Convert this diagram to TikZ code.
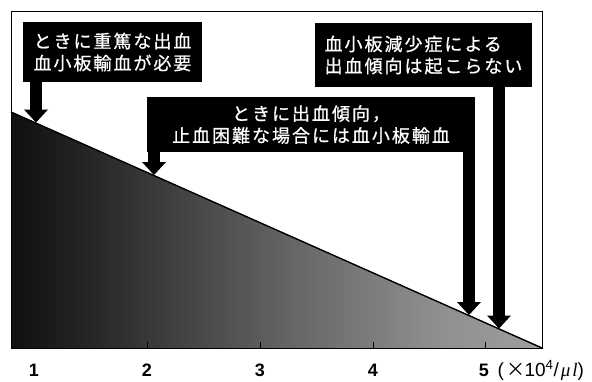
\documentclass[tikz,border=0pt]{standalone}
\usepackage{fontspec}
\setmainfont{Liberation Sans}
\newfontfamily\jp[LetterSpace=11,FakeBold=0.8]{Noto Sans CJK JP}
\newfontfamily\jpplain{Noto Sans CJK JP}
\newfontfamily\serifit{Liberation Serif}
\usetikzlibrary{arrows.meta}
\pgfdeclarehorizontalshading{tri}{100bp}{color(0bp)=(black); color(20bp)=(black); color(35bp)=(black!82); color(50bp)=(black!62); color(65bp)=(black!44); color(85bp)=(black!32); color(94bp)=(black!18); color(100bp)=(black!6)}
\begin{document}
\begin{tikzpicture}[x=1pt,y=-1pt,
  jbox/.style={fill=black,text=white,font=\jp\fontsize{18}{22}\selectfont,align=center,inner sep=0pt},
  fat/.style={line width=12pt,-{Triangle[length=13pt,width=24pt,line width=0pt]}},
  tickmark/.style={line width=0.8pt},
  num/.style={font=\bfseries\fontsize{18}{18}\selectfont}]
\useasboundingbox (0,0) rectangle (592,381);
\coordinate (A) at (11,112);
\coordinate (B) at (542,348);
\coordinate (C) at (11,348);
\shade[shading=tri] (A) -- (B) -- (C) -- cycle;
\draw[line width=0.9pt] (11,11) rectangle (542,348);
\draw[line width=1.4pt] (A) -- (B);
\foreach \x in {147,260,373,485} {\draw[tickmark] (\x,348) -- (\x,342);}
\node[jbox,minimum width=179pt,minimum height=60pt,align=left] (b1) at (112.5,52) {ときに重篤な出血\\血小板輸血が必要};
\node[jbox,minimum width=328pt,minimum height=55pt] (b2) at (311,124.5) {ときに出血傾向，\\止血困難な場合には血小板輸血};
\node[jbox,minimum width=217pt,minimum height=64pt,align=left] (b3) at (423.5,55) {血小板減少症による\\出血傾向は起こらない};
\coordinate (t1) at (36,122.5);
\coordinate (t2) at (154,175);
\coordinate (t3) at (469,315);
\coordinate (t4) at (499,328.5);
\draw[fat] (b1.south -| t1) -- (t1);
\draw[fat] (b2.south -| t2) -- (t2);
\draw[fat] (b2.south -| t3) -- (t3);
\draw[fat] (b3.south -| t4) -- (t4);
\node[num] (n1) at (34,370) {1};
\node[num] (n2) at (147,370) {2};
\node[num] (n3) at (260,370) {3};
\node[num] (n4) at (373,370) {4};
\node[num] (n5) at (484,370) {5};
\node[anchor=base west,inner sep=0pt,xshift=5pt,font=\fontsize{19}{19}\selectfont] (unit) at (n5.base east) {(\kern2.5pt{\jpplain ×}\kern-1pt10\textsuperscript{4}/\kern2pt{\serifit\itshape μ\kern2pt l})};
\end{tikzpicture}
\end{document}
